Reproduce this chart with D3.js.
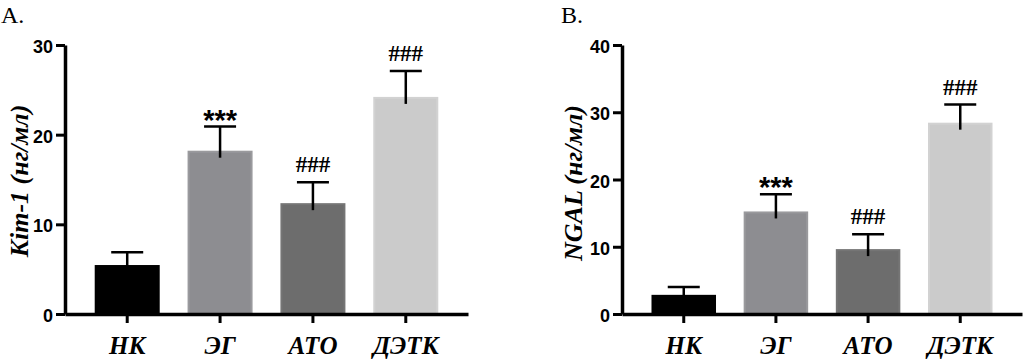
<!DOCTYPE html>
<html><head><meta charset="utf-8">
<script src="https://cdn.jsdelivr.net/npm/d3@7"></script>
<style>body{margin:0;background:#fff}svg{display:block}</style>
</head><body>
<svg id="c" width="1024" height="362"></svg>
<script>
const categories = ["НК", "ЭГ", "АТО", "ДЭТК"];
const kimMean = [5.35, 18.1, 12.25, 24.1];
const kimErr  = [1.55, 2.8, 2.45, 3.0];
const ngalMean = [2.7, 15.1, 9.5, 28.3];
const ngalErr  = [1.3, 2.7, 2.35, 2.85];
const kimTicks = [0, 10, 20, 30];
const ngalTicks = [0, 10, 20, 30, 40];
const marks = ["", "***", "###", "###"];
const barColors = ["#000000", "#8d8d91", "#6d6d6d", "#cbcbcb"];
const barEdges  = ["#000000", "#9a9a9d", "#757575", "#d2d2d2"];

const svg = d3.select("#c");

function panel(cfg){
  const g = svg.append("g");
  const y = d3.scaleLinear().domain(cfg.domain).range([314, 45]);
  const x = d3.scaleBand().domain(categories).range([cfg.x0, cfg.x1]).paddingInner(0.3).paddingOuter(0.32);

  g.selectAll("rect.bar").data(cfg.mean).join("rect")
    .attr("x", (d,i)=>x(categories[i])+1)
    .attr("width", x.bandwidth()-2)
    .attr("y", d=>y(d))
    .attr("height", d=>y(0)-y(d))
    .attr("fill", (d,i)=>barColors[i])
    .attr("stroke", (d,i)=>barEdges[i])
    .attr("stroke-width", 2);

  const cx = i => x(categories[i]) + x.bandwidth()/2;
  g.selectAll("line.ev").data(cfg.mean).join("line")
    .attr("x1",(d,i)=>cx(i)).attr("x2",(d,i)=>cx(i))
    .attr("y1",(d)=>y(d)+6).attr("y2",(d,i)=>y(d+cfg.err[i]))
    .attr("stroke","#000").attr("stroke-width",2.5);
  g.selectAll("line.ec").data(cfg.mean).join("line")
    .attr("x1",(d,i)=>cx(i)-16).attr("x2",(d,i)=>cx(i)+16)
    .attr("y1",(d,i)=>y(d+cfg.err[i])).attr("y2",(d,i)=>y(d+cfg.err[i]))
    .attr("stroke","#000").attr("stroke-width",2.5);

  g.selectAll("text.sig").data(cfg.mean).join("text")
    .attr("x",(d,i)=>cx(i))
    .attr("y",(d,i)=> marks[i]==="***" ? y(d+cfg.err[i])+3 : y(d+cfg.err[i])-10)
    .attr("text-anchor","middle")
    .attr("font-family", (d,i)=> marks[i]==="***" ? "Liberation Sans, Arial, sans-serif" : "Liberation Serif, Times New Roman, serif")
    .attr("font-weight", "bold")
    .attr("font-size", (d,i)=> marks[i]==="***" ? 29 : 23)
    .attr("fill","#000")
    .text((d,i)=>marks[i]);

  const ya = g.append("g").attr("transform",`translate(${cfg.x0},0)`)
    .call(d3.axisLeft(y).tickValues(cfg.ticks).tickSize(9).tickSizeOuter(0).tickPadding(3));
  ya.select(".domain").attr("stroke","#000").attr("stroke-width",3.5);
  ya.selectAll(".tick line").attr("stroke","#000").attr("stroke-width",3);
  ya.selectAll(".tick text").attr("font-family","Liberation Sans, Arial, sans-serif")
    .attr("font-weight","bold").attr("font-size",18).attr("fill","#000").attr("dy","0.42em");

  const xa = g.append("g").attr("transform",`translate(0,${y(0)})`)
    .call(d3.axisBottom(x).tickSize(9).tickSizeOuter(0).tickPadding(13));
  xa.select(".domain").attr("stroke","#000").attr("stroke-width",3.5);
  xa.selectAll(".tick line").attr("stroke","#000").attr("stroke-width",3);
  xa.selectAll(".tick text").attr("font-family","Liberation Serif, Times New Roman, serif")
    .attr("font-weight","bold").attr("font-style","italic").attr("font-size",25).attr("fill","#000");

  const t = g.append("text")
    .attr("transform",`translate(${cfg.tx},${cfg.ty}) rotate(-90)`)
    .attr("text-anchor","middle")
    .attr("font-family","Liberation Serif, Times New Roman, serif")
    .attr("font-weight","bold").attr("font-style","italic").attr("font-size",26).attr("fill","#000");
  t.append("tspan").text(cfg.title);
  t.append("tspan").text(" (нг/мл)");

  g.append("text").attr("x",cfg.lx).attr("y",23)
    .attr("font-family","Liberation Serif, Times New Roman, serif")
    .attr("font-size",24).attr("fill","#000").text(cfg.letter);
}

panel({domain:[0,30], ticks:kimTicks, mean:kimMean, err:kimErr, x0:65, x1:468,
  title:"Kim-1", tx:28, ty:181, letter:"A.", lx:1});
panel({domain:[0,40], ticks:ngalTicks, mean:ngalMean, err:ngalErr, x0:622, x1:1022,
  title:"NGAL", tx:582, ty:183, letter:"B.", lx:561});
</script>
</body></html>
